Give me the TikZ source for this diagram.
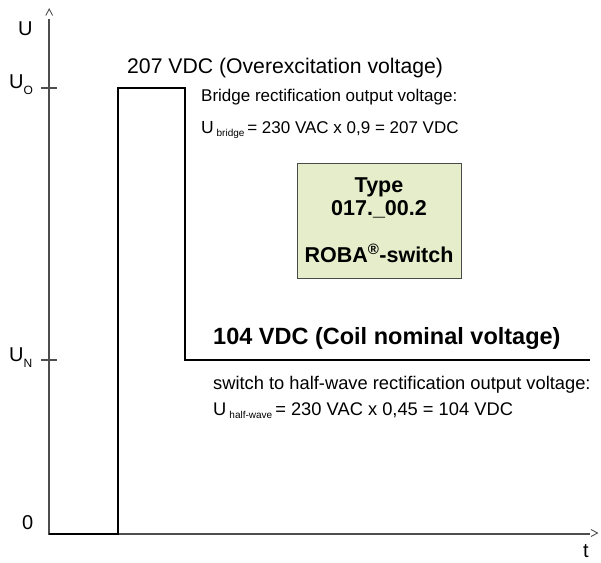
\documentclass[tikz,border=0pt]{standalone}
\usepackage{fontspec}
\setmainfont{Liberation Sans}
\definecolor{axisgray}{HTML}{4D4D4D}
\definecolor{boxgreen}{HTML}{E6EDCB}
\definecolor{boxline}{HTML}{4A4A4A}
\tikzset{
  axisline/.style={draw=axisgray, line width=1.6pt},
  tickline/.style={draw=axisgray, line width=1.3pt},
  chevron/.style={draw=axisgray, line width=0.9pt},
  signal/.style={draw=black, line width=1.9pt},
  lbl/.style={inner sep=0pt, anchor=base west, font=\fontsize{20}{20}\selectfont},
  bigtxt/.style={inner sep=0pt, anchor=base west, font=\fontsize{21.2}{21.2}\selectfont},
  bigbold/.style={inner sep=0pt, anchor=base west, font=\fontsize{23.5}{23.5}\selectfont\bfseries},
  uppertxt/.style={inner sep=0pt, anchor=base west, font=\fontsize{17}{17}\selectfont},
  lowertxt/.style={inner sep=0pt, anchor=base west, font=\fontsize{18.3}{18.3}\selectfont},
  typebox/.style={draw=boxline, fill=boxgreen, line width=1pt, minimum width=164pt, minimum height=115pt, inner sep=0pt},
  boxtxt/.style={inner sep=0pt, anchor=base, font=\fontsize{21.5}{21.5}\selectfont\bfseries},
}
\newcommand{\lowsub}[1]{\raisebox{-3.5pt}{\fontsize{10}{10}\selectfont #1}}
\begin{document}
\begin{tikzpicture}[x=1pt,y=-1pt]
\useasboundingbox (0,0) rectangle (601,562);
% axes
\coordinate (ytop) at (49,19);
\coordinate (orig) at (49,534);
\coordinate (xend) at (590,534);
\draw[axisline] (ytop) -- (orig) -- (xend);
\coordinate (ca1) at (45.8,15.5); \coordinate (ca2) at (49.2,9); \coordinate (ca3) at (52.6,15.5);
\draw[chevron] (ca1) -- (ca2) -- (ca3);
\coordinate (cb1) at (591,529.5); \coordinate (cb2) at (597.5,533); \coordinate (cb3) at (591,536.5);
\draw[chevron] (cb1) -- (cb2) -- (cb3);
% ticks
\coordinate (to1) at (41,88); \coordinate (to2) at (57,88);
\draw[tickline] (to1) -- (to2);
\coordinate (tn1) at (41,360); \coordinate (tn2) at (57,360);
\draw[tickline] (tn1) -- (tn2);
% signal
\coordinate (s0) at (49,534);
\coordinate (s1) at (118,534);
\coordinate (s2) at (118,88);
\coordinate (s3) at (185,88);
\coordinate (s4) at (185,360);
\coordinate (s5) at (590,360);
\draw[signal, line join=miter] (s0) -- (s1) -- (s2) -- (s3) -- (s4) -- (s5);
% axis labels
\node[lbl] (lu) at (18,35) {U};
\node[lbl] (luo) at (9,88) {U\raisebox{-6.5pt}{\fontsize{12}{12}\selectfont O}};
\node[lbl] (lun) at (9,361) {U\raisebox{-6.5pt}{\fontsize{12}{12}\selectfont N}};
\node[lbl] (lz) at (22,529) {0};
\node[lbl] (lt) at (583,557) {t};
% texts
\node[bigtxt] (over) at (127,73) {207 VDC (Overexcitation voltage)};
\node[uppertxt] (bridge) at (201,101) {Bridge rectification output voltage:};
\node[uppertxt] (ubridge) at (201,133) {{\fontsize{17.5}{17.5}\selectfont U}\,\lowsub{bridge}\,= 230 VAC x 0,9 = 207 VDC};
\node[bigbold] (nom) at (213,344) {104 VDC (Coil nominal voltage)};
\node[lowertxt] (half) at (213,389) {switch to half-wave rectification output voltage:};
\node[lowertxt] (uhalf) at (213,415) {U\,\lowsub{half-wave}\,= 230 VAC x 0,45 = 104 VDC};
% type box
\node[typebox] (tb) at (379,220.5) {};
\node[boxtxt] (t1) at (379,192) {Type};
\node[boxtxt] (t2) at (379,215.5) {017.\_00.2};
\node[boxtxt] (t3) at (379,262) {ROBA\textsuperscript{®}-switch};
\end{tikzpicture}
\end{document}
